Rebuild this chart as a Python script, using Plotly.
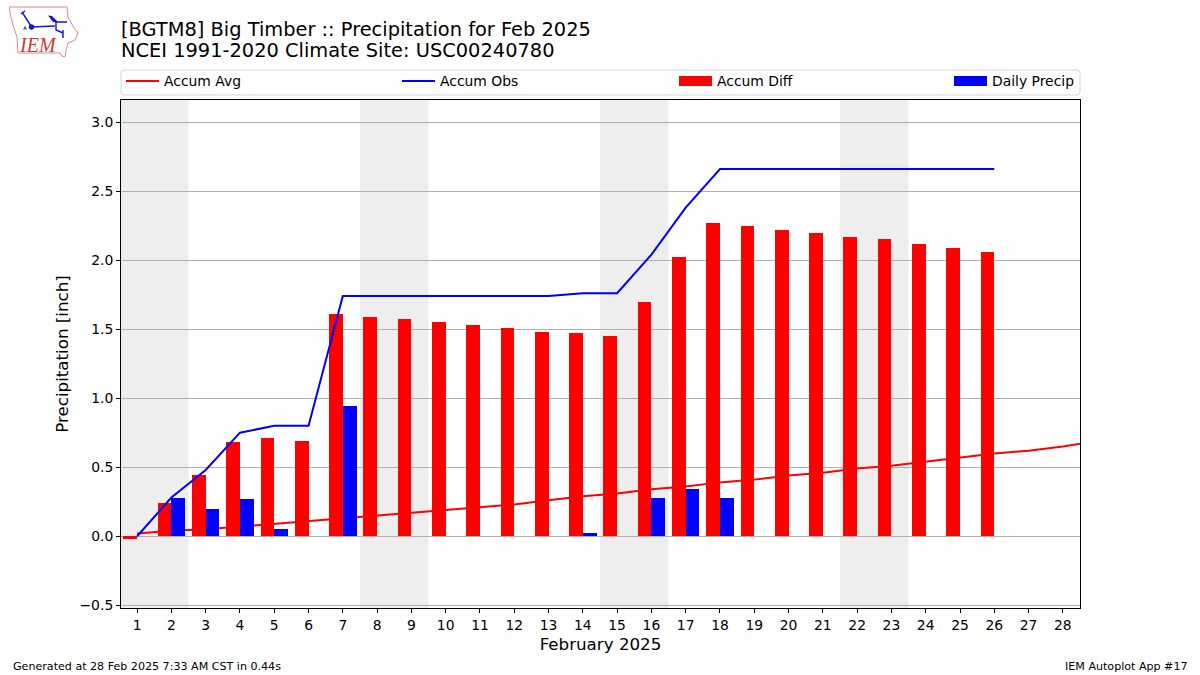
import base64
import plotly.graph_objects as go

days = list(range(1, 30))
diff_days = list(range(1, 27))
accum_avg = [0.02, 0.04, 0.05, 0.07, 0.09, 0.11, 0.13, 0.15, 0.17, 0.19, 0.21, 0.23, 0.26, 0.29, 0.31,
             0.34, 0.36, 0.39, 0.41, 0.44, 0.46, 0.49, 0.51, 0.54, 0.57, 0.60, 0.62, 0.65, 0.69]
accum_obs = [0.0, 0.28, 0.48, 0.75, 0.80, 0.80, 1.74, 1.74, 1.74, 1.74, 1.74, 1.74, 1.74, 1.76, 1.76,
             2.04, 2.38, 2.66, 2.66, 2.66, 2.66, 2.66, 2.66, 2.66, 2.66, 2.66]
accum_diff = [-0.02, 0.24, 0.44, 0.68, 0.71, 0.69, 1.61, 1.59, 1.57, 1.55, 1.53, 1.51, 1.48, 1.47, 1.45,
              1.70, 2.02, 2.27, 2.25, 2.22, 2.20, 2.17, 2.15, 2.12, 2.09, 2.06]
daily_precip = [0.0, 0.28, 0.20, 0.27, 0.05, 0.0, 0.94, 0, 0, 0, 0, 0, 0, 0.02, 0,
                0.28, 0.34, 0.28, 0, 0, 0, 0, 0, 0, 0, 0]
weekends = [(0.5, 2.5), (7.5, 9.5), (14.5, 16.5), (21.5, 23.5)]
tick_days = list(range(1, 29))
y_ticks = [-0.5, 0.0, 0.5, 1.0, 1.5, 2.0, 2.5, 3.0]

FONT = "DejaVu Sans"
W, H = 1200, 675
L, R, T, B = 121, 1080, 100, 608

fig = go.Figure()
fig.add_trace(go.Scatter(x=days, y=accum_avg, mode="lines", name="Accum Avg", legend="legend",
                         line=dict(color="red", width=2), xaxis="x", yaxis="y"))
fig.add_trace(go.Bar(x=diff_days, y=accum_diff, name="Accum Diff", showlegend=False, marker=dict(color="red", line_width=0),
                     width=0.4, offset=-0.4, xaxis="x2", yaxis="y2"))
fig.add_trace(go.Bar(x=diff_days, y=daily_precip, name="Daily Precip", showlegend=False, marker=dict(color="blue", line_width=0),
                     width=0.4, offset=0, xaxis="x2", yaxis="y2"))
fig.add_trace(go.Scatter(x=diff_days, y=accum_obs, mode="lines", name="Accum Obs", legend="legend2",
                         line=dict(color="blue", width=2), xaxis="x2", yaxis="y2"))
# legend keys for the bars: wide swatches as in the reference
fig.add_trace(go.Scatter(x=[None], y=[None], mode="lines", name="Accum Diff", legend="legend3",
                         line=dict(color="red", width=10), xaxis="x2", yaxis="y2"))
fig.add_trace(go.Scatter(x=[None], y=[None], mode="lines", name="Daily Precip", legend="legend4",
                         line=dict(color="blue", width=10), xaxis="x2", yaxis="y2"))

xr = [0.53, 28.5]
yr = [-0.52, 3.16]
shapes = [dict(type="rect", xref="x", yref="paper", x0=a, x1=b, y0=0, y1=1, layer="below",
               fillcolor="#eeeeee", line_width=0) for a, b in weekends]
def px(x): return (x - L) / (R - L)
def py(y): return (B - y) / (B - T)
x0, x1, y0, y1, r = px(121), px(1080), py(70), py(95), 3
rx, ry = r / (R - L), r / (B - T)
shapes.append(dict(type="path", xref="paper", yref="paper", line=dict(color="#d5d5d5", width=1),
                   path=f"M{x0+rx},{y0} L{x1-rx},{y0} Q{x1},{y0} {x1},{y0-ry} L{x1},{y1+ry} Q{x1},{y1} {x1-rx},{y1} "
                        f"L{x0+rx},{y1} Q{x0},{y1} {x0},{y1+ry} L{x0},{y0-ry} Q{x0},{y0} {x0+rx},{y0} Z"))

logo_svg = """<svg xmlns='http://www.w3.org/2000/svg' width='85' height='63' viewBox='0 0 85 63'>
<path d='M9.5 7 L67 7 L68 17 L74 28 L78 33 L75 40 L68 43 L66 50 L65 57 L62 56 L60 53 L18 53 L17 37 L13 25 L10 13 Z' fill='none' stroke='#e08888' stroke-width='1'/>
<path d='M32 27 L55 26 M55 22 L67 22 M56 22 L56 30 L63 33 M63 30 L63 38 M22 12 L31 26 M21 14 L25 11' fill='none' stroke='#1515d8' stroke-width='1.4'/>
<path d='M48 15.5 L52 16 L58 22 L53 22 Z' fill='#1515d8'/>
<circle cx='31.5' cy='27' r='2.7' fill='#1515d8'/>
<path d='M23 29.5 L25 25.5 L27 29.5 Z' fill='#5555dd'/>
</svg>"""
logo_src = "data:image/svg+xml;base64," + base64.b64encode(logo_svg.encode()).decode()

def note(text, x, y, size, xanchor="left", color="black", family=FONT):
    return dict(text=text, xref="paper", yref="paper", x=px(x), y=py(y), showarrow=False,
                xanchor=xanchor, yanchor="middle", align=xanchor,
                font=dict(family=family, size=size, color=color), borderpad=0)

annotations = [
    note("[BGTM8] Big Timber :: Precipitation for Feb 2025", 119.5, 29, 19.4),
    note("NCEI 1991-2020 Climate Site: USC00240780", 119.5, 50.5, 19.4),
    note("Generated at 28 Feb 2025 7:33 AM CST in 0.44s", 11.5, 666, 11.1),
    note("IEM Autoplot App #17", 1188.5, 666, 11.1, xanchor="right"),
    note("<i>IEM</i>", 37.5, 45.5, 20, xanchor="center", color="#d03838", family="Liberation Serif"),
]

def legend_at(x):
    return dict(orientation="h", x=px(x), y=py(65.5), xanchor="left", yanchor="top",
                font=dict(family=FONT, size=13.9, color="black"),
                bgcolor="rgba(0,0,0,0)", borderwidth=0, itemwidth=33)

axis_common = dict(showline=True, linecolor="black", linewidth=1, mirror=True, ticks="outside", ticklen=4,
                   tickcolor="black", tickwidth=1, tickfont=dict(family=FONT, size=13.9, color="black"))
fig.update_layout(
    width=W, height=H, autosize=False,
    margin=dict(l=L, r=W - R, t=T, b=H - B, pad=0),
    paper_bgcolor="white", plot_bgcolor="white",
    barmode="overlay", bargap=0,
    font=dict(family=FONT, color="black"),
    showlegend=True,
    legend=legend_at(121), legend2=legend_at(397), legend3=legend_at(674), legend4=legend_at(949),
    xaxis=dict(range=xr, tickmode="array", tickvals=tick_days, ticktext=[str(d) for d in tick_days],
               showgrid=False, zeroline=False,
               title=dict(text="February 2025", font=dict(family=FONT, size=16.7, color="black"), standoff=6),
               **axis_common),
    yaxis=dict(range=yr, tickmode="array", tickvals=y_ticks, ticktext=[f"{v:.1f}".replace("-", "\u2212") for v in y_ticks],
               showgrid=True, gridcolor="#b0b0b0", gridwidth=1, zeroline=False,
               title=dict(text="Precipitation [inch]", font=dict(family=FONT, size=16.7, color="black"), standoff=6),
               **axis_common),
    xaxis2=dict(range=xr, overlaying="x", visible=False),
    yaxis2=dict(range=yr, overlaying="y", visible=False),
    shapes=shapes, annotations=annotations,
    images=[dict(source=logo_src, xref="paper", yref="paper", x=px(0), y=py(0), sizex=85 / (R - L), sizey=63 / (B - T),
                 xanchor="left", yanchor="top", sizing="stretch", layer="above")],
)
fig.write_html("out.html", config={"displayModeBar": False},
               post_script="document.body.style.margin='0';document.documentElement.style.overflow='hidden';")
